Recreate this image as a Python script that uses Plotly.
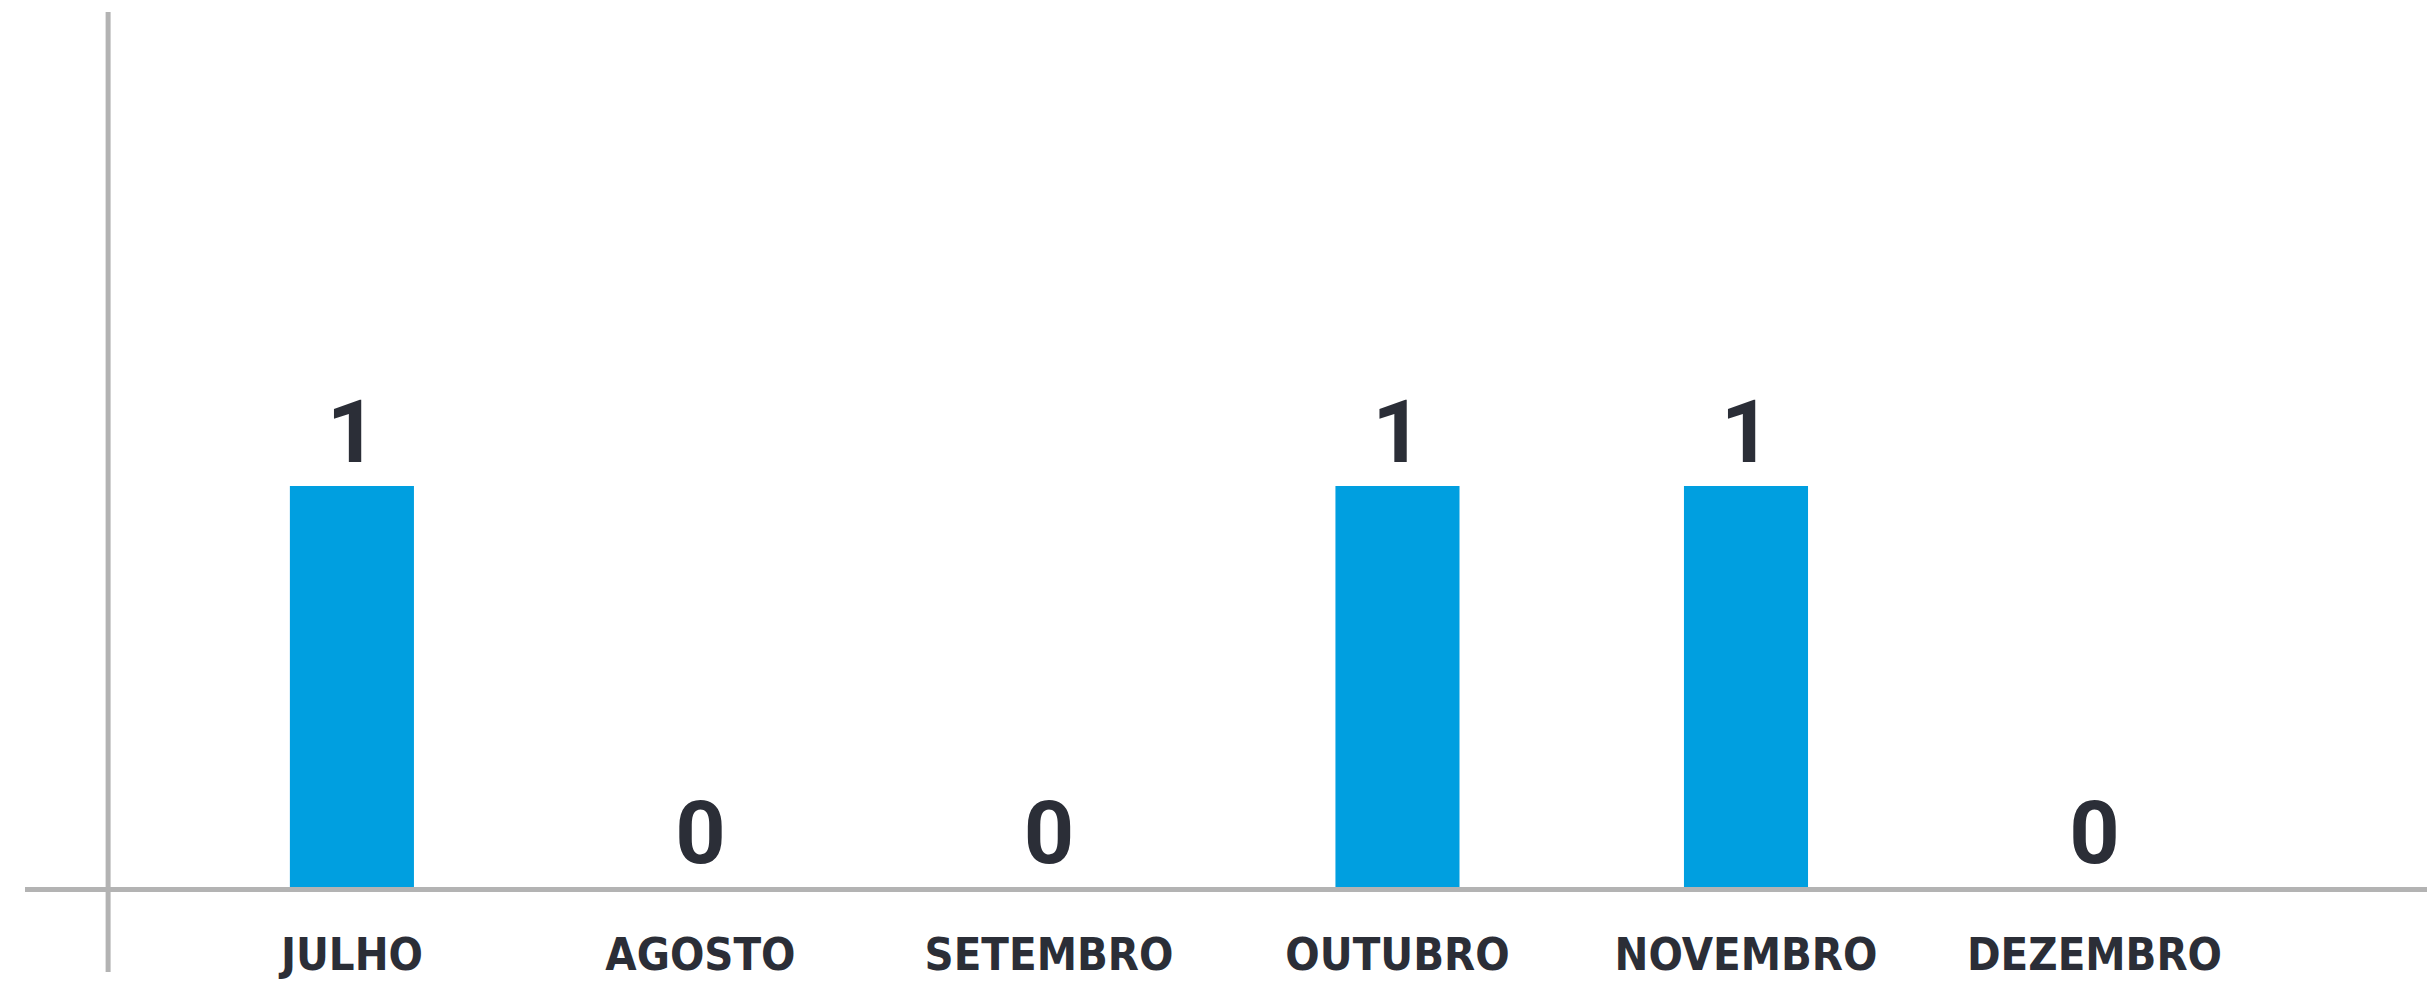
import plotly.graph_objects as go

months = ["JULHO", "AGOSTO", "SETEMBRO", "OUTUBRO", "NOVEMBRO", "DEZEMBRO"]
values = [1, 0, 0, 1, 1, 0]
value_labels = ["1", "0", "0", "1", "1", "0"]

BAR_COLOR = "#009fe0"
TEXT_COLOR = "#2b2e37"
AXIS_COLOR = "#b3b3b3"
TICK_FONT = "DejaVu Sans Condensed, Liberation Sans Narrow, sans-serif"
VALUE_FONT = "Roboto, Liberation Sans, sans-serif"

fig = go.Figure(
    go.Bar(
        x=months,
        y=values,
        text=value_labels,
        textposition="outside",
        textfont=dict(family=VALUE_FONT, size=88, color=TEXT_COLOR, weight="bold"),
        marker=dict(color=BAR_COLOR, line=dict(width=0)),
        width=0.356,
        cliponaxis=False,
        constraintext="none",
        hoverinfo="skip",
    )
)

fig.update_layout(
    width=2427,
    height=987,
    margin=dict(l=25, r=0, t=12, b=100),
    paper_bgcolor="white",
    plot_bgcolor="white",
    showlegend=False,
    xaxis=dict(
        range=[-0.938, 5.954],
        showline=True,
        linecolor=AXIS_COLOR,
        linewidth=5,
        showgrid=False,
        zeroline=False,
        ticks="",
        tickfont=dict(family=TICK_FONT, size=45, color=TEXT_COLOR, weight="bold"),
        ticklabelstandoff=24,
    ),
    yaxis=dict(
        range=[0, 2.182],
        showline=False,
        showgrid=False,
        zeroline=False,
        showticklabels=False,
        ticks="",
    ),
    shapes=[
        dict(
            type="line",
            xref="paper",
            yref="paper",
            x0=0.0346,
            x1=0.0346,
            y0=-0.097,
            y1=1.0,
            line=dict(color=AXIS_COLOR, width=5),
            layer="below",
        )
    ],
)

fig.write_html(
    "out.html",
    config={"displayModeBar": False},
    post_script="document.body.style.margin='0';document.body.style.overflow='hidden';",
)
